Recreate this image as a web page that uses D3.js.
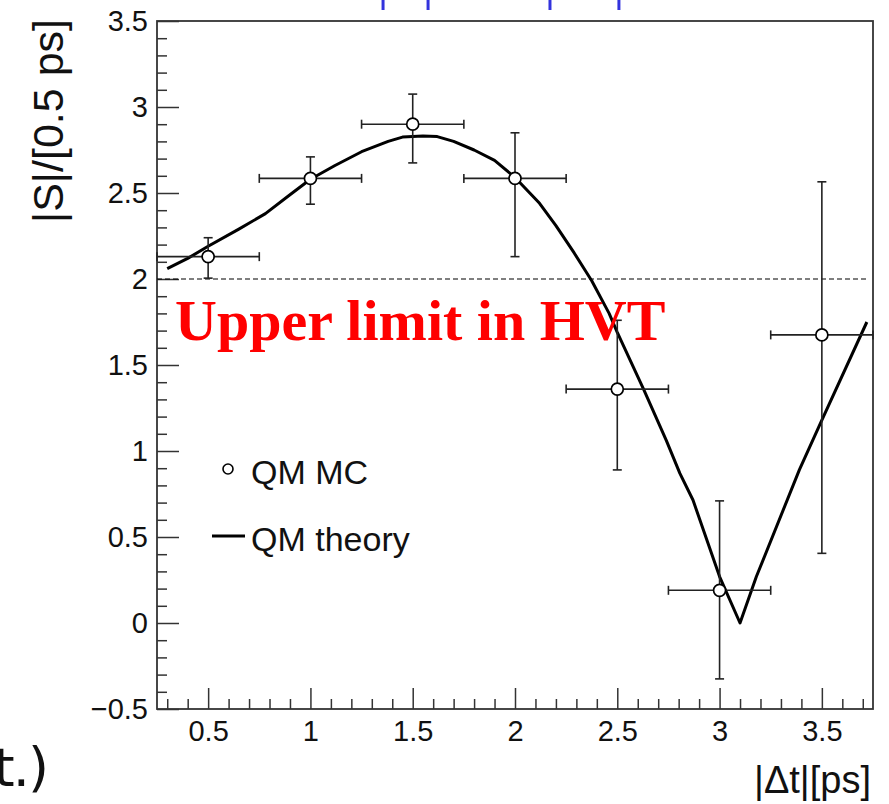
<!DOCTYPE html>
<html>
<head>
<meta charset="utf-8">
<script src="https://cdn.jsdelivr.net/npm/d3@7"></script>
<style>
  body { margin: 0; background: #fff; }
  svg { display: block; }
</style>
</head>
<body>
<div id="chart"></div>
<script>
// data
var pointX = [0.5, 1.0, 1.5, 2.0, 2.5, 3.0, 3.5];
var pointY = [2.13, 2.585, 2.90, 2.585, 1.36, 0.19, 1.675];
var errHigh = [0.11, 0.125, 0.175, 0.265, 0.40, 0.52, 0.89];
var errLow = [0.125, 0.15, 0.225, 0.455, 0.47, 0.515, 1.27];
var binHalf = 0.25;

var theoryX = [0.30, 0.40, 0.50, 0.65, 0.78, 0.90, 1.00, 1.12, 1.25, 1.38, 1.45, 1.55, 1.62, 1.70, 1.80, 1.90,
               2.00, 2.12, 2.20, 2.29, 2.375, 2.46, 2.50, 2.63, 2.74, 2.806, 2.87, 3.00, 3.10, 3.18, 3.39, 3.50, 3.72];
var theoryY = [2.06, 2.12, 2.19, 2.29, 2.38, 2.49, 2.58, 2.66, 2.74, 2.80, 2.825, 2.832, 2.828, 2.80, 2.75, 2.69,
               2.59, 2.44, 2.31, 2.15, 1.99, 1.80, 1.69, 1.355, 1.06, 0.87, 0.715, 0.27, 0.0, 0.27, 0.89, 1.18, 1.75];

var upperLimit = 2;

var xTicks = [0.5, 1, 1.5, 2, 2.5, 3, 3.5];
var xTickLabels = ["0.5", "1", "1.5", "2", "2.5", "3", "3.5"];
var yTicks = [-0.5, 0, 0.5, 1, 1.5, 2, 2.5, 3, 3.5];
var yTickLabels = ["\u22120.5", "0", "0.5", "1", "1.5", "2", "2.5", "3", "3.5"];

// leftover marks from the slide above the plot (x in axis units)
var topMarks = [1.355, 1.575, 2.171, 2.508];

const W = 889, H = 804;
const frame = {left: 157, right: 873, top: 21, bottom: 709};
const fontSans = "'Liberation Sans', Arial, Helvetica, sans-serif";

var svg = d3.select("#chart")
    .append("svg")
        .attr("width", W)
        .attr("height", H);

var xScale = d3.scaleLinear().domain([0.25, 3.75]).range([frame.left, frame.right]);
var yScale = d3.scaleLinear().domain([-0.5, 3.5]).range([frame.bottom, frame.top]);

// blue marks at top edge
svg.selectAll(".topmark")
    .data(topMarks)
    .enter().append("line")
    .attr("x1", d => xScale(d)).attr("x2", d => xScale(d))
    .attr("y1", 0).attr("y2", 10)
    .style("stroke", "#3333dd")
    .style("stroke-width", 3);

// minor ticks
var xMinor = d3.range(0.3, 3.75, 0.1).filter(v => Math.abs(v * 2 - Math.round(v * 2)) > 1e-6);
var yMinor = d3.range(-0.4, 3.5, 0.1).filter(v => Math.abs(v * 2 - Math.round(v * 2)) > 1e-6);

svg.append("g")
    .attr("transform", `translate(0,${frame.bottom})`)
    .call(d3.axisBottom(xScale).tickValues(xMinor).tickSize(-10).tickSizeOuter(0).tickFormat(""))
    .call(g => g.select(".domain").remove())
    .selectAll("line").style("stroke", "#333").style("stroke-width", 1.5);

svg.append("g")
    .attr("transform", `translate(${frame.left},0)`)
    .call(d3.axisLeft(yScale).tickValues(yMinor).tickSize(-10).tickSizeOuter(0).tickFormat(""))
    .call(g => g.select(".domain").remove())
    .selectAll("line").style("stroke", "#333").style("stroke-width", 1.5);

//X Axis
var xAxis = svg.append("g")
    .attr("transform", `translate(0,${frame.bottom})`)
    .call(d3.axisBottom(xScale).tickValues(xTicks).tickSize(-21).tickSizeOuter(0).tickPadding(11)
        .tickFormat((d, i) => xTickLabels[i]));
xAxis.select(".domain").remove();
xAxis.selectAll("line").style("stroke", "#333").style("stroke-width", 1.5);
xAxis.selectAll("text")
    .style("font-family", fontSans)
    .style("font-size", "29px")
    .style("fill", "#111");

//Y Axis
var yAxis = svg.append("g")
    .attr("transform", `translate(${frame.left},0)`)
    .call(d3.axisLeft(yScale).tickValues(yTicks).tickSize(-22).tickSizeOuter(0).tickPadding(9)
        .tickFormat((d, i) => yTickLabels[i]));
yAxis.select(".domain").remove();
yAxis.selectAll("line").style("stroke", "#333").style("stroke-width", 1.5);
yAxis.selectAll("text")
    .style("font-family", fontSans)
    .style("font-size", "29px")
    .style("fill", "#111");

// frame
svg.append("rect")
    .attr("x", frame.left).attr("y", frame.top)
    .attr("width", frame.right - frame.left)
    .attr("height", frame.bottom - frame.top)
    .style("fill", "none")
    .style("stroke", "#333")
    .style("stroke-width", 1.8);

// dashed upper limit
svg.append("line")
    .attr("x1", xScale(0.25)).attr("x2", xScale(3.73))
    .attr("y1", yScale(upperLimit)).attr("y2", yScale(upperLimit))
    .style("stroke", "#000")
    .style("stroke-width", 1.2)
    .style("stroke-dasharray", "5,3");

// theory curve
var theory = theoryX.map((x, i) => [x, theoryY[i]]);
svg.append("path")
    .datum(theory)
    .attr("d", d3.line().x(d => xScale(d[0])).y(d => yScale(d[1])))
    .style("fill", "none")
    .style("stroke", "#000")
    .style("stroke-width", 3)
    .style("stroke-linejoin", "round");

// MC points with errors
var pts = pointX.map((x, i) => ({x: x, y: pointY[i], lo: errLow[i], hi: errHigh[i]}));
var cap = 4.5;
var eb = svg.append("g").style("stroke", "#222").style("stroke-width", 1.6);
pts.forEach(function(p) {
    var cx = xScale(p.x), cy = yScale(p.y);
    var x0 = xScale(p.x - binHalf), x1 = xScale(p.x + binHalf);
    var y0 = yScale(p.y - p.lo), y1 = yScale(p.y + p.hi);
    eb.append("line").attr("x1", x0).attr("x2", x1).attr("y1", cy).attr("y2", cy);
    eb.append("line").attr("x1", cx).attr("x2", cx).attr("y1", y0).attr("y2", y1);
    eb.append("line").attr("x1", x0).attr("x2", x0).attr("y1", cy - cap).attr("y2", cy + cap);
    eb.append("line").attr("x1", x1).attr("x2", x1).attr("y1", cy - cap).attr("y2", cy + cap);
    eb.append("line").attr("x1", cx - cap).attr("x2", cx + cap).attr("y1", y0).attr("y2", y0);
    eb.append("line").attr("x1", cx - cap).attr("x2", cx + cap).attr("y1", y1).attr("y2", y1);
});

svg.selectAll(".dot")
    .data(pts)
    .enter().append("circle")
    .attr("class", "dot")
    .attr("cx", d => xScale(d.x))
    .attr("cy", d => yScale(d.y))
    .attr("r", 6)
    .style("fill", "#fff")
    .style("stroke", "#000")
    .style("stroke-width", 1.7);

// red annotation
svg.append("text")
    .attr("x", 175)
    .attr("y", 340)
    .style("font-family", "'Liberation Serif', 'Times New Roman', serif")
    .style("font-weight", "bold")
    .style("font-size", "58px")
    .style("fill", "#ff0000")
    .text("Upper limit in HVT");

// legend
svg.append("circle")
    .attr("cx", 228).attr("cy", 469).attr("r", 5)
    .style("fill", "#fff").style("stroke", "#000").style("stroke-width", 1.6);
svg.append("text")
    .attr("x", 251).attr("y", 484)
    .style("font-family", fontSans).style("font-size", "34px").style("fill", "#111")
    .text("QM MC");
svg.append("line")
    .attr("x1", 212).attr("x2", 245).attr("y1", 536).attr("y2", 536)
    .style("stroke", "#000").style("stroke-width", 3);
svg.append("text")
    .attr("x", 251).attr("y", 551)
    .style("font-family", fontSans).style("font-size", "34px").style("fill", "#111")
    .text("QM theory");

//X Axis label
svg.append("text")
    .attr("x", frame.right - 2)
    .attr("y", 793)
    .style("text-anchor", "end")
    .style("font-family", fontSans)
    .style("font-size", "38px")
    .style("fill", "#111")
    .text("|\u0394t|[ps]");

//Y Axis label
svg.append("text")
    .attr("transform", "translate(63," + (frame.top - 2) + ") rotate(-90)")
    .style("text-anchor", "end")
    .style("font-family", fontSans)
    .style("font-size", "43px")
    .style("fill", "#111")
    .text("|S|/[0.5 ps]");

// slide text fragment bottom-left
svg.append("text")
    .attr("x", 47)
    .attr("y", 786)
    .style("text-anchor", "end")
    .style("letter-spacing", "-2px")
    .style("font-family", "'DejaVu Sans', sans-serif")
    .style("font-size", "54px")
    .style("fill", "#111")
    .text("t.)");
</script>
</body>
</html>
